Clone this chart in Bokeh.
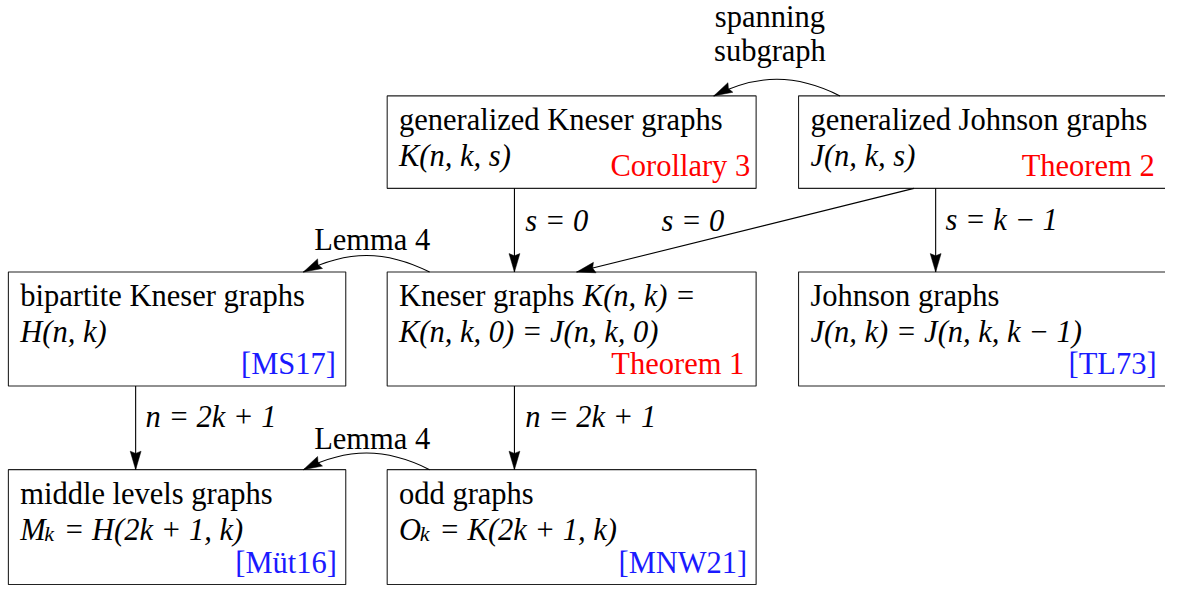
import math
from bokeh.plotting import figure
from bokeh.models import Range1d, ColumnDataSource
from bokeh.embed import file_html
from bokeh.resources import INLINE
from bokeh.core.properties import value

# ---------------- content ----------------
node_ids = ["gk", "gj", "bk", "kn", "jo", "ml", "od"]
node_titles = ["generalized Kneser graphs", "generalized Johnson graphs",
               "bipartite Kneser graphs", "Kneser graphs", "Johnson graphs",
               "middle levels graphs", "odd graphs"]
# math on same line as title (after it) / on second line
title_math = ["", "", "", "K(n, k) =", "", "", ""]
formula_main = ["K(n, k, s)", "J(n, k, s)", "H(n, k)", "K(n, k, 0) = J(n, k, 0)",
                "J(n, k) = J(n, k, k \u2212 1)", "M", "O"]
formula_sub = ["", "", "", "", "", "k", "k"]
formula_rest = ["", "", "", "", "", "= H(2k + 1, k)", "= K(2k + 1, k)"]
node_refs = ["Corollary 3", "Theorem 2", "[MS17]", "Theorem 1", "[TL73]", "[M\u00fct16]", "[MNW21]"]
ref_kind = ["thm", "thm", "cite", "thm", "cite", "cite", "cite"]

edge_src = ["gk", "gj", "gj", "kn", "gj", "bk", "kn", "od"]
edge_dst = ["kn", "kn", "jo", "bk", "gk", "ml", "od", "ml"]
edge_label = ["s = 0", "s = 0", "s = k \u2212 1", "Lemma 4", "spanning\nsubgraph",
              "n = 2k + 1", "n = 2k + 1", "Lemma 4"]
edge_math = [True, True, True, False, False, True, True, False]

# ---------------- layout ----------------
FS = 30.5
SUBFS = 22
FONT = "Liberation Serif"
TDY = -10.5   # compensation for the SVG baseline placement
rects = {
    "gk": (392, 98, 766, 193),
    "gj": (809, 98, 1195, 193),
    "bk": (8, 279, 350, 396),
    "kn": (392, 279, 766, 396),
    "jo": (809, 279, 1195, 396),
    "ml": (8, 482, 350, 600),
    "od": (392, 482, 766, 600),
}
ref_right = {"gk": 760, "gj": 1170, "bk": 340, "kn": 754, "jo": 1172, "ml": 341, "od": 757}
# edge geometry: (kind, start, end)
edge_geom = [
    ("line", (521, 193), (521, 279)),
    ("line", (926, 193), (584, 279)),
    ("line", (948, 193), (948, 279)),
    ("bend", (435, 279), (307, 279)),
    ("bend", (851, 98), (723, 98)),
    ("line", (137, 396), (137, 482)),
    ("line", (521, 396), (521, 482)),
    ("bend", (435, 482), (307, 482)),
]
label_pos = [((532, 237), "left"), ((670, 237), "left"), ((958, 236), "left"),
             ((318, 257), "left"), ((780, 27), "center"), ((147, 438), "left"),
             ((532, 438), "left"), ((318, 461), "left")]

ROMAN = {' ': 250, 'a': 444, 'b': 500, 'c': 444, 'd': 500, 'e': 444, 'f': 333, 'g': 500,
         'h': 500, 'i': 278, 'j': 278, 'k': 500, 'l': 278, 'm': 778, 'n': 500, 'o': 500,
         'p': 500, 'q': 500, 'r': 333, 's': 389, 't': 278, 'u': 500, 'v': 500, 'w': 722,
         'x': 500, 'y': 500, 'z': 444, 'K': 722, 'J': 389, 'H': 722, 'M': 889, 'O': 722}
ITALIC = {'M': 833, 'O': 722, 'k': 444, 'K': 667, 'J': 444, 'H': 722, 'n': 500, 's': 389}


def tw(s, table, size):
    return sum(table.get(c, 500) for c in s) * size / 1000.0


p = figure(width=1165, height=585, output_backend="svg", toolbar_location=None,
           x_range=Range1d(0, 1181), y_range=Range1d(601, 0), min_border=0)
p.axis.visible = False
p.grid.visible = False
p.outline_line_color = None
p.background_fill_color = "white"
p.border_fill_color = "white"

# boxes
boxes = ColumnDataSource(dict(
    left=[rects[n][0] for n in node_ids], right=[rects[n][2] for n in node_ids],
    top=[rects[n][1] for n in node_ids], bottom=[rects[n][3] for n in node_ids]))
p.quad(left="left", right="right", top="top", bottom="bottom", source=boxes,
       fill_color="white", line_color="#222222", line_width=1.1)

rm = dict(x=[], y=[], text=[], color=[], align=[], size=[])
it = dict(x=[], y=[], text=[], color=[], align=[], size=[])


def put(d, x, y, t, color="black", align="left", size=FS):
    d["x"].append(x); d["y"].append(y + TDY); d["text"].append(t)
    d["color"].append(color); d["align"].append(align); d["size"].append(f"{size}px")


for i, n in enumerate(node_ids):
    l, t, r, b = rects[n]
    x0 = l + 12
    put(rm, x0, t + 35, node_titles[i])
    if title_math[i]:
        xm = x0 + tw(node_titles[i], ROMAN, FS) + 0.36 * FS
        put(it, xm, t + 35, title_math[i])
    put(it, x0, t + 72, formula_main[i])
    if formula_sub[i]:
        xs = x0 + tw(formula_main[i], ITALIC, FS) - 1
        put(it, xs, t + 76, formula_sub[i], size=SUBFS)
        xr = xs + tw(formula_sub[i], ITALIC, SUBFS) + 0.33 * FS
        put(it, xr, t + 72, formula_rest[i])
    col = "#ff0000" if ref_kind[i] == "thm" else "#1a1aff"
    put(rm, ref_right[n], b - 12, node_refs[i], color=col, align="right")

for i in range(len(edge_label)):
    (lx, ly), al = label_pos[i]
    for k, part in enumerate(edge_label[i].split("\n")):
        put(it if edge_math[i] else rm, lx, ly + 35 * k, part, align=al)

for d, style in ((rm, "normal"), (it, "italic")):
    src = ColumnDataSource(d)
    p.text(x="x", y="y", text="text", source=src, text_color="color",
           text_align="align", text_font_size="size", text_baseline="alphabetic",
           text_font=value(FONT), text_font_style=style)

# edges
seg = dict(x0=[], y0=[], x1=[], y1=[])
bez = dict(x0=[], y0=[], x1=[], y1=[], cx0=[], cy0=[], cx1=[], cy1=[])
heads_x, heads_y = [], []
AL, AW = 19, 5.5
ANG = math.radians(27)
K = 0.3915
for kind, (sx, sy), (ex, ey) in edge_geom:
    if kind == "line":
        seg["x0"].append(sx); seg["y0"].append(sy); seg["x1"].append(ex); seg["y1"].append(ey)
        dx, dy = ex - sx, ey - sy
    else:
        dx, dy = ex - sx, ey - sy
        c, s_ = math.cos(ANG), math.sin(ANG)
        r1 = (dx * c - dy * s_, dx * s_ + dy * c)
        r2 = (dx * c + dy * s_, -dx * s_ + dy * c)
        c0 = (sx + K * r1[0], sy + K * r1[1])
        c1 = (ex - K * r2[0], ey - K * r2[1])
        bez["x0"].append(sx); bez["y0"].append(sy); bez["x1"].append(ex); bez["y1"].append(ey)
        bez["cx0"].append(c0[0]); bez["cy0"].append(c0[1])
        bez["cx1"].append(c1[0]); bez["cy1"].append(c1[1])
        dx, dy = ex - c1[0], ey - c1[1]
    L = math.hypot(dx, dy)
    ux, uy = dx / L, dy / L
    bx, by = ex - AL * ux, ey - AL * uy
    nx, ny = -uy, ux
    heads_x.append([ex, bx + AW * nx, bx + AL * 0.12 * ux, bx - AW * nx])
    heads_y.append([ey, by + AW * ny, by + AL * 0.12 * uy, by - AW * ny])

p.segment(x0="x0", y0="y0", x1="x1", y1="y1", source=ColumnDataSource(seg),
          line_color="black", line_width=1.1)
p.bezier(x0="x0", y0="y0", x1="x1", y1="y1", cx0="cx0", cy0="cy0", cx1="cx1", cy1="cy1",
         source=ColumnDataSource(bez), line_color="black", line_width=1.1)
p.patches(xs=heads_x, ys=heads_y, fill_color="black", line_color="black", line_width=0.5)

open("out.html", "w").write(file_html(p, INLINE))
